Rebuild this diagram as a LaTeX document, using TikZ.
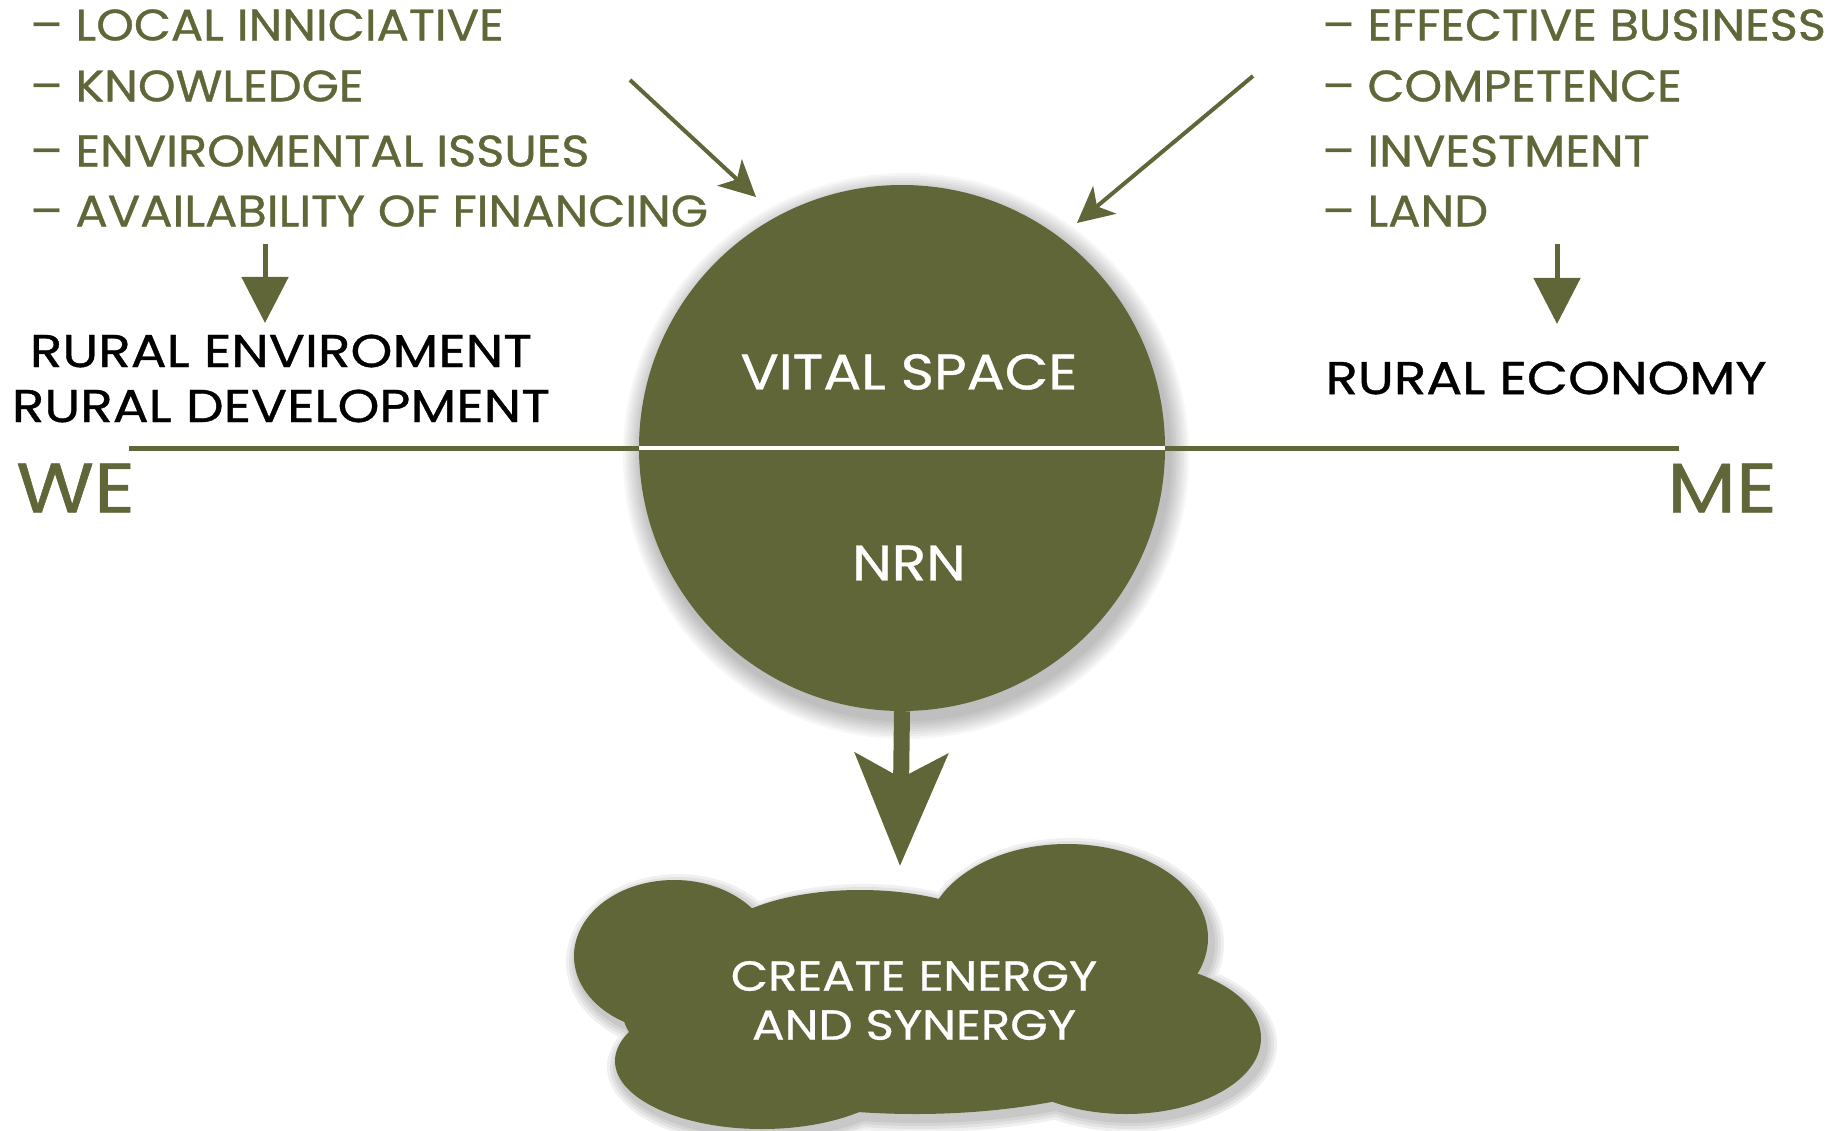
\documentclass[tikz,border=0pt]{standalone}
\usepackage{fontspec}
\setmainfont{Poppins}
\newfontfamily\listfont[FakeStretch=1.09, FakeBold=0.8]{Poppins}
\newfontfamily\blackfont[FakeStretch=1.16, FakeBold=0.8]{Poppins}
\newfontfamily\circfont[FakeStretch=1.13, FakeBold=0.8]{Poppins}
\newfontfamily\cloudfont[FakeStretch=1.15, FakeBold=0.8]{Poppins}
\newfontfamily\bigfont[FakeStretch=1.14, FakeBold=0.8]{Poppins}
\usetikzlibrary{arrows.meta}
\definecolor{myolive}{RGB}{96,102,56}
\newcommand\cloudlobes[1]{%
  \fill (674,956) ellipse [x radius=100+#1, y radius=76+#1];
  \fill (1067,938) ellipse [x radius=141+#1, y radius=94+#1];
  \fill (1126,1038) ellipse [x radius=135+#1, y radius=76+#1];
  \fill (762,1061) ellipse [x radius=147+#1, y radius=68+#1];
  \fill (915,1009) ellipse [x radius=293+#1, y radius=105+#1];
  \fill (860,950) ellipse [x radius=150+#1, y radius=60+#1];
}
\tikzset{
  listtext/.style={anchor=west, inner sep=0pt, text=myolive, font=\listfont\fontsize{44}{50}\selectfont},
  blacktext/.style={inner sep=0pt, text=black, font=\blackfont\fontsize{46}{52}\selectfont},
  circtext/.style={inner sep=0pt, text=white, font=\circfont\fontsize{50}{56}\selectfont},
  cloudtext/.style={inner sep=0pt, text=white, font=\cloudfont\fontsize{42}{48}\selectfont},
  bigtext/.style={inner sep=0pt, text=myolive, font=\bigfont\fontsize{70}{76}\selectfont},
  thinarrow/.style={draw=myolive, line width=4pt, -{Stealth[length=36pt, width=36pt, inset=10pt]}},
  smallarrow/.style={draw=myolive, line width=5pt, -{Triangle[length=46pt, width=46pt]}},
  bigarrow/.style={draw=myolive, line width=16pt, -{Stealth[length=112pt, width=92pt, inset=24pt]}},
}
\begin{document}
\begin{tikzpicture}[x=1pt, y=-1pt]
\useasboundingbox (0,0) rectangle (1839,1131);

% left list
\node[listtext] (l1) at (30,25) {– LOCAL INNICIATIVE};
\node[listtext] (l2) at (30,86) {– KNOWLEDGE};
\node[listtext] (l3) at (30,151) {– ENVIROMENTAL ISSUES};
\node[listtext] (l4) at (30,211) {– AVAILABILITY OF FINANCING};
% right list
\node[listtext] (r1) at (1322,25) {– EFFECTIVE BUSINESS};
\node[listtext] (r2) at (1322,86) {– COMPETENCE};
\node[listtext] (r3) at (1322,151) {– INVESTMENT};
\node[listtext] (r4) at (1322,211) {– LAND};

% black labels
\node[blacktext] (renv) at (281,351) {RURAL ENVIROMENT};
\node[blacktext] (rdev) at (281,406) {RURAL DEVELOPMENT};
\node[blacktext] (reco) at (1546,378) {RURAL ECONOMY};

% WE / ME
\node[bigtext, anchor=west] (we) at (16,488) {WE};
\node[bigtext, anchor=west] (me) at (1667,488) {ME};

% axis line
\coordinate (hl) at (129,448);
\coordinate (hr) at (1679,448);

% circle shadow
\foreach \k in {1,...,8}{
  \fill[black, opacity=0.035] (906,456) circle [radius=263+2.5*\k];
}
\node[circle, fill=myolive, minimum size=526pt, inner sep=0pt] (vs) at (902,448) {};
\draw[myolive, line width=5pt] (hl) -- (vs.west);
\draw[myolive, line width=5pt] (vs.east) -- (hr);
\draw[white, line width=4pt] (vs.west) -- (vs.east);
\node[circtext] (vital) at (909,372) {VITAL SPACE};
\node[circtext] (nrn) at (909,563) {NRN};

% cloud shadow
\foreach \k in {3,6,9,12}{
  \begin{scope}[transparency group, opacity=0.06, shift={(4,6)}]
    \begin{scope}[black]\cloudlobes{\k}\end{scope}
  \end{scope}
}
\begin{scope}[myolive]\cloudlobes{0}\end{scope}
\coordinate (ctop) at (900,866);
\node[cloudtext] (c1) at (914,976) {CREATE ENERGY};
\node[cloudtext] (c2) at (914,1025) {AND SYNERGY};

% arrows
\coordinate (da1s) at (630,80);
\coordinate (da1e) at (756,197);
\coordinate (da2s) at (1253,76);
\coordinate (da2e) at (1077,223);
\draw[thinarrow] (da1s) -- (da1e);
\draw[thinarrow] (da2s) -- (da2e);

\coordinate (sa1s) at (265,244);
\coordinate (sa1e) at (265,323);
\coordinate (sa2s) at (1557,244);
\coordinate (sa2e) at (1557,324);
\draw[smallarrow] (sa1s) -- (sa1e);
\draw[smallarrow] (sa2s) -- (sa2e);

\draw[bigarrow] (vs.south) -- (ctop);
\end{tikzpicture}
\end{document}
